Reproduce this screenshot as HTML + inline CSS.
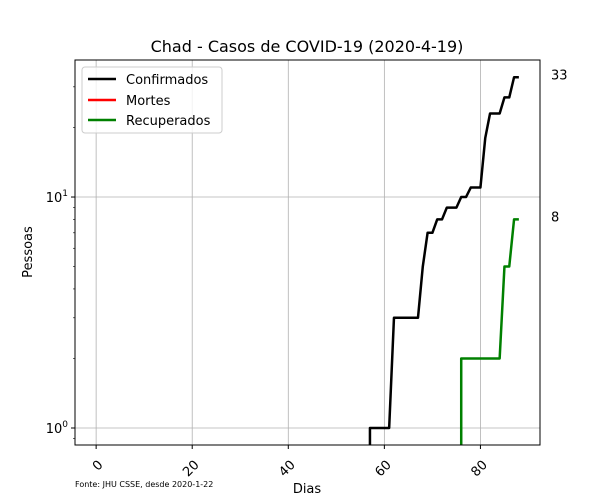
<!DOCTYPE html>
<html><head><meta charset="utf-8"><style>
html,body{margin:0;padding:0;background:#fff;width:600px;height:500px;overflow:hidden;}
svg{display:block;overflow:hidden;font-family:"DejaVu Sans","Liberation Sans",sans-serif;}
</style></head><body>
<svg id="chart" width="600" height="500" viewBox="0 0 600 500">
<rect width="600" height="500" fill="#fff"/>
<g id="grid"></g>
<g id="series"></g>
<g id="axes"></g>
<text x="307" y="52" font-size="16" text-anchor="middle">Chad - Casos de COVID-19 (2020-4-19)</text>
<text x="307" y="493" font-size="13" text-anchor="middle">Dias</text>
<text transform="translate(32,252) rotate(-90)" font-size="13" text-anchor="middle">Pessoas</text>
<text x="75" y="487" font-size="8">Fonte: JHU CSSE, desde 2020-1-22</text>
<g>
<rect x="82" y="67" width="140" height="66" rx="3" fill="#fff" fill-opacity="0.8" stroke="#ccc"/>
<g><line x1="88" y1="79" x2="116" y2="79" stroke="#000" stroke-width="2.5"/><text x="126" y="84" font-size="13">Confirmados</text></g>
<g><line x1="88" y1="100" x2="116" y2="100" stroke="red" stroke-width="2.5"/><text x="126" y="105" font-size="13">Mortes</text></g>
<g><line x1="88" y1="120" x2="116" y2="120" stroke="green" stroke-width="2.5"/><text x="126" y="125" font-size="13">Recuperados</text></g>
</g>
<g id="endlabels"></g>
</svg>
<script>
const confirmed = [];
for (let i=0;i<57;i++) confirmed.push(0);
confirmed.push(1,1,1,1,1,3,3,3,3,3,3,5,7,7,8,8,9,9,9,10,10,11,11,11,18,23,23,23,27,27,33,33);
const deaths = [];
for (let i=0;i<89;i++) deaths.push(0);
const recovered = [];
for (let i=0;i<76;i++) recovered.push(0);
recovered.push(2,2,2,2,2,2,2,2,2,5,5,8,8);
const xTicks = [0,20,40,60,80];
const yTicks = [1,10];

const L=75,R=540,T=60,B=445;
const xMin=-4.4,xMax=92.4;
const yMinLog=Math.log10(0.844),yMaxLog=Math.log10(39.2);
const X=d=>L+(d-xMin)/(xMax-xMin)*(R-L);
const Y=v=>v<=0?B+3:T+(yMaxLog-Math.log10(v))/(yMaxLog-yMinLog)*(B-T);
const NS="http://www.w3.org/2000/svg";
function mk(tag,attrs,parent){const e=document.createElementNS(NS,tag);for(const k in attrs)e.setAttribute(k,attrs[k]);parent.appendChild(e);return e;}
const grid=document.getElementById('grid'),axes=document.getElementById('axes'),ser=document.getElementById('series'),endl=document.getElementById('endlabels');
xTicks.forEach(t=>{
  const g=mk('line',{x1:X(t),x2:X(t),y1:T,y2:B,stroke:'#b0b0b0','stroke-width':0.8},grid);
  
  
  mk('line',{x1:X(t),x2:X(t),y1:B,y2:B+4,stroke:'#000'},axes);
  const tx=mk('text',{x:X(t)+4,y:B+22,'font-size':13,'text-anchor':'end',transform:`rotate(-45 ${X(t)+4} ${B+17})`},axes);
  tx.textContent=t;
  
  
});
yTicks.forEach(t=>{
  const g=mk('line',{x1:L,x2:R,y1:Y(t),y2:Y(t),stroke:'#b0b0b0','stroke-width':0.8},grid);
  
  
  mk('line',{x1:L-4,x2:L,y1:Y(t),y2:Y(t),stroke:'#000'},axes);
  const tx=mk('text',{x:L-7,y:Y(t)+5,'font-size':13,'text-anchor':'end'},axes);
  tx.innerHTML='10<tspan dy="-6" font-size="9">'+Math.round(Math.log10(t))+'</tspan>';
  
  
});
for(let v=0.9;v<39;v+= (v<1?0.1:(v<10?1:10))){
  const vv=Math.round(v*10)/10; if(vv===1||vv===10) continue;
  if(Y(vv)<T||Y(vv)>B) continue;
  mk('line',{x1:L-2,x2:L,y1:Y(vv),y2:Y(vv),stroke:'#000','stroke-width':0.6},axes);
}
mk('rect',{x:L,y:T,width:R-L,height:B-T,fill:'none',stroke:'#000','stroke-width':1},axes);
const cp=document.createElementNS(NS,'clipPath');cp.id='clip';mk('rect',{x:L,y:T,width:R-L,height:B-T},cp);document.getElementById('chart').appendChild(cp);
ser.setAttribute('clip-path','url(#clip)');
function line(data,color,name){
  const pts=data.map((v,i)=>{
    let x=X(i);
    if(v<=0 && i+1<data.length && data[i+1]>0) x=X(i+1);
    if(v<=0 && i>0 && data[i-1]>0) x=X(i-1);
    return x+','+Y(v);
  });
  const p=mk('polyline',{points:pts.join(' '),fill:'none',stroke:color,'stroke-width':2.5,'stroke-linejoin':'round'},ser);
  
  
}
line(deaths,'red','line-mortes');
line(recovered,'green','line-recuperados');
line(confirmed,'#000','line-confirmados');
[[confirmed,'end-label-confirmados'],[recovered,'end-label-recuperados']].forEach(([d,n])=>{
  const v=d[d.length-1];
  const t=mk('text',{x:551,y:Y(v)+2,'font-size':13},endl);
  t.textContent=v;
  
  
});
</script>
</body></html>
